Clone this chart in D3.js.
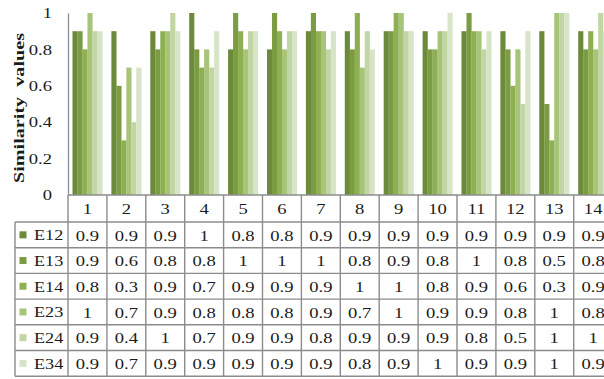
<!DOCTYPE html>
<html>
<head>
<meta charset="utf-8">
<script src="https://cdn.jsdelivr.net/npm/d3@7"></script>
<style>
  html, body { margin: 0; padding: 0; background: #fff; }
  svg { display: block; }
  text { font-family: "Liberation Serif", "Times New Roman", serif; fill: #1a1a1a; }
</style>
</head>
<body>
<svg id="chart" width="604" height="379"></svg>
<script>
// Categories (experiments 1..14) and the six pairwise similarity series
const categories = ["1","2","3","4","5","6","7","8","9","10","11","12","13","14"];
const seriesNames = ["E12","E13","E14","E23","E24","E34"];
const E12 = [0.9,0.9,0.9,1,0.8,0.8,0.9,0.9,0.9,0.9,0.9,0.9,0.9,0.9];
const E13 = [0.9,0.6,0.8,0.8,1,1,1,0.8,0.9,0.8,1,0.8,0.5,0.8];
const E14 = [0.8,0.3,0.9,0.7,0.9,0.9,0.9,1,1,0.8,0.9,0.6,0.3,0.9];
const E23 = [1,0.7,0.9,0.8,0.8,0.8,0.9,0.7,1,0.9,0.9,0.8,1,0.8];
const E24 = [0.9,0.4,1,0.7,0.9,0.9,0.8,0.9,0.9,0.9,0.8,0.5,1,1];
const E34 = [0.9,0.7,0.9,0.9,0.9,0.9,0.9,0.8,0.9,1,0.9,0.9,1,0.9];
const yTicks = [0, 0.2, 0.4, 0.6, 0.8, 1];
const yTickLabels = ["0","0.2","0.4","0.6","0.8","1"];
const yTitle = "Similarity  values";

const seriesValues = [E12, E13, E14, E23, E24, E34];
const colors = ["#6b8a3a", "#7b9c42", "#8fb052", "#a7c479", "#c2d6a5", "#d8e4c8"];

const svg = d3.select("#chart");

// Plot geometry
const plotLeft = 68, plotTop = 13, plotBottom = 195;
const colW = 38.9;
const plotRight = plotLeft + colW * categories.length;
const tableLeft = 15;
const headerBottom = 222;
const rowH = 25.7;
const tableBottom = headerBottom + rowH * seriesNames.length;

const x = d3.scaleBand().domain(categories).range([plotLeft, plotRight]).padding(0);
const xs = d3.scaleBand().domain(seriesNames).range([0, x.bandwidth()])
  .paddingInner(0).paddingOuter(0.9);
const y = d3.scaleLinear().domain([0, 1]).range([plotBottom, plotTop]);

// Bars
const groups = svg.append("g").selectAll("g")
  .data(categories).join("g")
  .attr("transform", d => `translate(${x(d)},0)`);

groups.selectAll("rect")
  .data((c, ci) => seriesNames.map((s, si) => ({ s, si, v: seriesValues[si][ci] })))
  .join("rect")
  .attr("x", d => xs(d.s))
  .attr("y", d => y(d.v))
  .attr("width", xs.bandwidth() + 0.15)
  .attr("height", d => y(0) - y(d.v))
  .attr("fill", d => colors[d.si]);

// Y axis (line + labels, no tick marks)
const yAxis = d3.axisLeft(y).tickValues(yTicks)
  .tickFormat((d, i) => yTickLabels[i]).tickSize(0).tickPadding(0);
const yg = svg.append("g").attr("transform", `translate(${plotLeft},0)`).call(yAxis);
yg.select(".domain").attr("stroke", "#8c8c8c").attr("stroke-width", 1.3);
yg.selectAll(".tick text")
  .attr("x", null).attr("dy", null)
  .attr("font-size", 14)
  .attr("text-anchor", "end")
  .attr("dominant-baseline", "central")
  .attr("transform", "translate(-16,0) scale(1.33,1)");

// Y axis title (rotated), stretched along its length to span the axis
const titleSpan = [33, 183];
const title = svg.append("text")
  .attr("text-anchor", "middle")
  .attr("dominant-baseline", "central")
  .attr("font-size", 14.5)
  .attr("font-weight", "bold")
  .style("white-space", "pre")
  .text(yTitle);
const natural = title.node().getComputedTextLength() || 1;
const stretch = (titleSpan[1] - titleSpan[0]) / natural;
title.attr("transform",
  `translate(19,${(titleSpan[0] + titleSpan[1]) / 2}) rotate(-90) scale(${stretch},1)`);

// Data table
const grid = svg.append("g").attr("stroke", "#8c8c8c").attr("stroke-width", 1.4).attr("fill", "none");
// top line (category axis)
grid.append("line").attr("x1", plotLeft).attr("x2", plotRight).attr("y1", plotBottom).attr("y2", plotBottom);
// horizontal row lines
d3.range(seriesNames.length + 1).forEach(i => {
  const yy = headerBottom + i * rowH;
  grid.append("line").attr("x1", tableLeft).attr("x2", plotRight).attr("y1", yy).attr("y2", yy);
});
// vertical lines
grid.append("line").attr("x1", tableLeft).attr("x2", tableLeft).attr("y1", headerBottom).attr("y2", tableBottom);
categories.forEach(c => {
  grid.append("line").attr("x1", x(c)).attr("x2", x(c)).attr("y1", plotBottom).attr("y2", tableBottom);
});
grid.append("line").attr("x1", plotRight).attr("x2", plotRight).attr("y1", plotBottom).attr("y2", tableBottom);

// header labels
svg.append("g").selectAll("text").data(categories).join("text")
  .attr("transform", d => `translate(${x(d) + x.bandwidth() / 2},${(plotBottom + headerBottom) / 2 + 1}) scale(1.33,1)`)
  .attr("text-anchor", "middle").attr("dominant-baseline", "central")
  .attr("font-size", 14)
  .text(d => d);

// rows: legend key, series name, values
seriesNames.forEach((s, si) => {
  const cy = headerBottom + si * rowH + rowH / 2;
  svg.append("rect").attr("x", 19.5).attr("y", cy - 3.5).attr("width", 7).attr("height", 7).attr("fill", colors[si]);
  svg.append("text")
    .attr("transform", `translate(34,${cy + 1}) scale(1.3,1)`)
    .attr("dominant-baseline", "central")
    .attr("font-size", 14)
    .text(s);
  svg.append("g").selectAll("text").data(seriesValues[si]).join("text")
    .attr("transform", (d, ci) => `translate(${x(categories[ci]) + x.bandwidth() / 2},${cy + 1}) scale(1.33,1)`)
    .attr("text-anchor", "middle").attr("dominant-baseline", "central")
    .attr("font-size", 14)
    .text(d => String(d));
});
</script>
</body>
</html>
